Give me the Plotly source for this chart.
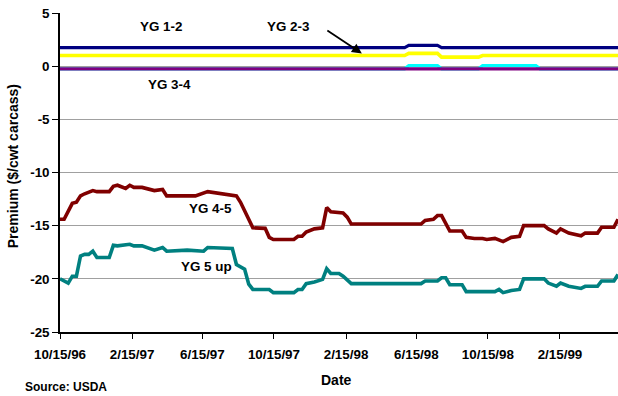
import datetime as dt
import plotly.graph_objects as go

# Weekly USDA yield-grade premiums, weeks counted from 10/15/96
START = dt.date(1996, 10, 15)
LAST_WEEK = 136

yg12_weeks = [0, 84, 85, 92, 93, 136]
yg12_vals = [1.75, 1.75, 1.95, 1.95, 1.75, 1.75]

yg23_weeks = [0, 84, 85, 92, 93, 102, 103, 136]
yg23_vals = [1.0, 1.0, 1.2, 1.2, 0.85, 0.85, 1.0, 1.0]

yg3_weeks = [0, 84, 85, 92, 93, 102, 103, 116, 117, 136]
yg3_vals = [-0.25, -0.25, 0.05, 0.05, -0.25, -0.25, 0.05, 0.05, -0.25, -0.25]

yg34_weeks = [0, 136]
yg34_vals = [-0.25, -0.25]

yg45_weeks = [0, 1, 3, 4, 5, 6, 8, 9, 12, 13, 14, 16, 17, 18, 20, 23, 25, 26, 28, 33,
              36, 38, 40, 43, 44, 45, 47, 50, 51, 52, 57, 58, 59, 60, 62, 64, 65, 66,
              69, 70, 71, 88, 89, 91, 92, 93, 95, 98, 99, 101, 103, 104, 106, 108, 110,
              112, 113, 118, 119, 121, 122, 124, 125, 127, 128, 131, 132, 135, 136]
yg45_vals = [-14.4, -14.4, -12.9, -12.8, -12.2, -12.0, -11.7, -11.8, -11.8, -11.3, -11.2,
             -11.5, -11.2, -11.4, -11.4, -11.7, -11.6, -12.2, -12.2, -12.2, -11.8, -11.9,
             -12.05, -12.2, -12.8, -13.6, -15.2, -15.25, -16.1, -16.3, -16.3, -16.0, -16.0,
             -15.6, -15.3, -15.2, -13.3, -13.7, -13.8, -14.2, -14.85, -14.85, -14.5, -14.4,
             -14.05, -14.05, -15.5, -15.5, -16.1, -16.2, -16.2, -16.3, -16.2, -16.5, -16.1,
             -16.0, -15.0, -15.0, -15.3, -15.7, -15.3, -15.7, -15.8, -15.95, -15.7, -15.7,
             -15.15, -15.15, -14.4]

yg5_weeks = [0, 2, 3, 4, 5, 6, 7, 8, 9, 12, 13, 14, 17, 18, 20, 23, 25, 26, 31, 35, 36,
             42, 43, 45, 46, 47, 51, 52, 57, 58, 59, 60, 62, 64, 65, 66, 68, 69, 71, 88,
             89, 92, 93, 94, 95, 98, 99, 106, 107, 108, 110, 112, 113, 118, 119, 121,
             122, 124, 127, 128, 131, 132, 135, 136]
yg5_vals = [-20.0, -20.4, -19.75, -19.75, -17.85, -17.7, -17.7, -17.4, -18.0, -18.0,
            -16.85, -16.9, -16.75, -16.9, -16.9, -17.3, -17.05, -17.4, -17.3, -17.4,
            -17.05, -17.15, -18.65, -19.1, -20.5, -21.0, -21.0, -21.3, -21.3, -21.0, -21.0,
            -20.45, -20.3, -20.05, -19.05, -19.5, -19.5, -19.75, -20.45, -20.45, -20.2,
            -20.2, -19.9, -19.9, -20.55, -20.55, -21.2, -21.2, -21.0, -21.3, -21.1, -21.0,
            -20.0, -20.0, -20.4, -20.7, -20.4, -20.7, -20.9, -20.7, -20.7, -20.2, -20.2,
            -19.6]

tick_dates = ["1996-10-15", "1997-02-15", "1997-06-15", "1997-10-15",
              "1998-02-15", "1998-06-15", "1998-10-15", "1999-02-15"]
tick_labels = ["10/15/96", "2/15/97", "6/15/97", "10/15/97",
               "2/15/98", "6/15/98", "10/15/98", "2/15/99"]
y_ticks = [5, 0, -5, -10, -15, -20, -25]
y_tick_labels = ["5", "0", "-5", "-10", "-15", "-20", "-25"]


def week_dates(weeks):
    return [START + dt.timedelta(days=7 * w) for w in weeks]


FONT = "Liberation Sans, Arial, sans-serif"

series = [
    ("YG 1-2", yg12_weeks, yg12_vals, "#000080", 3.2),
    ("YG 2-3", yg23_weeks, yg23_vals, "#FFFF00", 3.6),
    ("YG 3", yg3_weeks, yg3_vals, "#00FFFF", 3.2),
    ("YG 3-4", yg34_weeks, yg34_vals, "#800080", 3.4),
    ("YG 4-5", yg45_weeks, yg45_vals, "#800000", 3.6),
    ("YG 5 up", yg5_weeks, yg5_vals, "#008080", 3.6),
]

fig = go.Figure()
for name, wk, vals, color, width in series:
    fig.add_trace(go.Scatter(
        x=week_dates(wk), y=vals, name=name, mode="lines",
        line=dict(color=color, width=width), hoverinfo="skip",
    ))

label_font = dict(family=FONT, size=13.4, color="black", weight="bold")
labels = [
    ("YG 1-2", "1997-04-05", 3.77),
    ("YG 2-3", "1997-11-08", 3.77),
    ("YG 3-4", "1997-04-19", -1.7),
    ("YG 4-5", "1997-06-28", -13.4),
    ("YG 5 up", "1997-06-22", -18.8),
]
annotations = [
    dict(x=d, y=v, xref="x", yref="y", text=t, showarrow=False, font=label_font,
         xanchor="center", yanchor="middle")
    for t, d, v in labels
]
# arrow from the YG 2-3 label down to its line
annotations.append(dict(
    x="1998-03-14", y=1.2, xref="x", yref="y", text="", showarrow=True,
    ax=-36, ay=-24, arrowhead=2, arrowsize=1.1, arrowwidth=1.8, arrowcolor="black",
))
annotations += [
    dict(x=-0.084, y=0.52, xref="paper", yref="paper", text="Premium ($/cwt carcass)",
         textangle=-90, showarrow=False, xanchor="center", yanchor="middle",
         font=dict(family=FONT, size=14, color="black", weight="bold")),
    dict(x=0.4964, y=-0.1505, xref="paper", yref="paper", text="Date", showarrow=False,
         xanchor="center", yanchor="middle",
         font=dict(family=FONT, size=14, color="black", weight="bold")),
    dict(x=-0.0663, y=-0.1724, xref="paper", yref="paper", text="Source: USDA",
         xanchor="left", yanchor="middle", showarrow=False,
         font=dict(family=FONT, size=12, color="black", weight="bold")),
]

fig.update_layout(
    width=618, height=396,
    margin=dict(l=60, r=0, t=13, b=64),
    paper_bgcolor="white", plot_bgcolor="white",
    showlegend=False,
    annotations=annotations,
    xaxis=dict(
        type="date",
        range=[START, START + dt.timedelta(days=7 * LAST_WEEK)],
        tickvals=tick_dates, ticktext=tick_labels,
        ticks="outside", ticklen=5, tickcolor="black", tickwidth=1,
        ticklabelstandoff=4,
        showgrid=False, zeroline=False,
        showline=True, linecolor="black", linewidth=1.5,
        tickfont=dict(family=FONT, size=13.4, color="black", weight="bold"),
    ),
    yaxis=dict(
        range=[-25, 5], tickvals=y_ticks, ticktext=y_tick_labels,
        ticks="outside", ticklen=6, tickcolor="black", tickwidth=1,
        showgrid=True, gridcolor="#a0a0a0", gridwidth=1,
        zeroline=False,
        showline=True, linecolor="black", linewidth=1.5,
        tickfont=dict(family=FONT, size=13.4, color="black", weight="bold"),
    ),
)

fig.write_html("out.html")
